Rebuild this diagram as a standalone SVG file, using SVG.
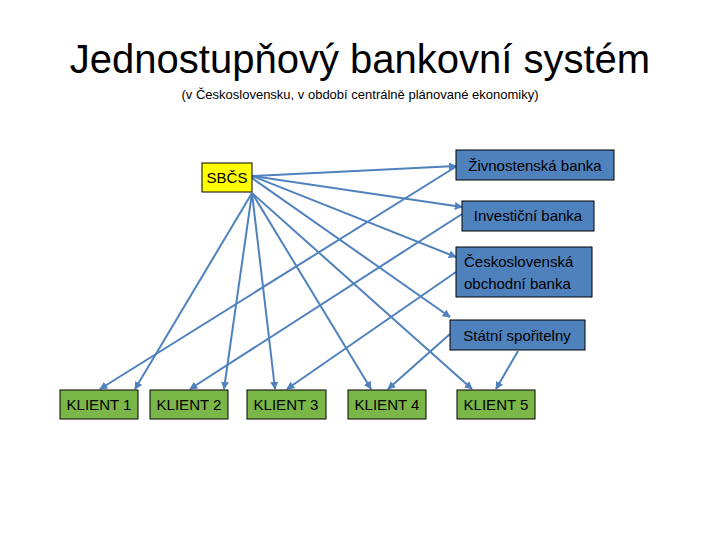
<svg xmlns="http://www.w3.org/2000/svg" width="720" height="540" viewBox="0 0 720 540">
<style>
text{font-family:"Liberation Sans",Arial,sans-serif;fill:#000}
.b{fill:#4f81bd;stroke:#000;stroke-width:1}
.k{fill:#7ab648;stroke:#000;stroke-width:1}
.l{fill:#000;font-size:15px}
.c line{stroke:#4f81bd;stroke-width:2;marker-end:url(#a)}
</style>
<defs><marker id="a" viewBox="0 0 10 10" refX="9" refY="5" markerWidth="4" markerHeight="4" orient="auto"><path d="M0,0L10,5L0,10z" fill="#4f81bd"/></marker></defs>
<rect width="720" height="540" fill="#fff"/>
<text x="360" y="73" font-size="40" text-anchor="middle">Jednostupňový bankovní systém</text>
<text x="360" y="99" font-size="13" text-anchor="middle">(v Československu, v období centrálně plánované ekonomiky)</text>
<g class="c">
<line x1="252" y1="176" x2="456" y2="166"/>
<line x1="252" y1="176" x2="462" y2="207"/>
<line x1="252" y1="176" x2="456" y2="257"/>
<line x1="252" y1="178" x2="450" y2="317"/>
<line x1="252" y1="193" x2="135" y2="389"/>
<line x1="252" y1="193" x2="224" y2="389"/>
<line x1="252" y1="193" x2="275" y2="389"/>
<line x1="252" y1="193" x2="371" y2="389"/>
<line x1="252" y1="193" x2="472" y2="389"/>
<line x1="457" y1="166" x2="100" y2="389"/>
<line x1="462" y1="214" x2="190" y2="389"/>
<line x1="456" y1="272" x2="287" y2="389"/>
<line x1="450" y1="334" x2="388" y2="389"/>
<line x1="518" y1="351" x2="496" y2="389"/>
</g>
<g id="sbcs"><rect x="202" y="163" width="50" height="29" fill="#ffff00" stroke="#000"/><text class="l" x="227" y="183" text-anchor="middle">SBČS</text></g>
<g id="ziv"><rect class="b" x="456" y="150" width="158" height="30"/><text class="l" x="535" y="171" text-anchor="middle">Živnostenská banka</text></g>
<g id="inv"><rect class="b" x="462" y="201" width="132" height="30"/><text class="l" x="528" y="221" text-anchor="middle">Investiční banka</text></g>
<g id="csob"><rect class="b" x="456" y="247" width="136" height="50"/><text class="l" x="464" y="267">Československá</text><text class="l" x="464" y="289">obchodní banka</text></g>
<g id="stat"><rect class="b" x="450" y="320" width="135" height="30"/><text class="l" x="517" y="341" text-anchor="middle">Státní spořitelny</text></g>
<g id="k1"><rect class="k" x="60" y="390" width="78" height="29"/><text class="l" x="99" y="410" text-anchor="middle">KLIENT 1</text></g>
<g id="k2"><rect class="k" x="150" y="390" width="78" height="29"/><text class="l" x="189" y="410" text-anchor="middle">KLIENT 2</text></g>
<g id="k3"><rect class="k" x="247" y="390" width="79" height="29"/><text class="l" x="286" y="410" text-anchor="middle">KLIENT 3</text></g>
<g id="k4"><rect class="k" x="348" y="390" width="78" height="29"/><text class="l" x="387" y="410" text-anchor="middle">KLIENT 4</text></g>
<g id="k5"><rect class="k" x="457" y="390" width="78" height="29"/><text class="l" x="496" y="410" text-anchor="middle">KLIENT 5</text></g>
</svg>
